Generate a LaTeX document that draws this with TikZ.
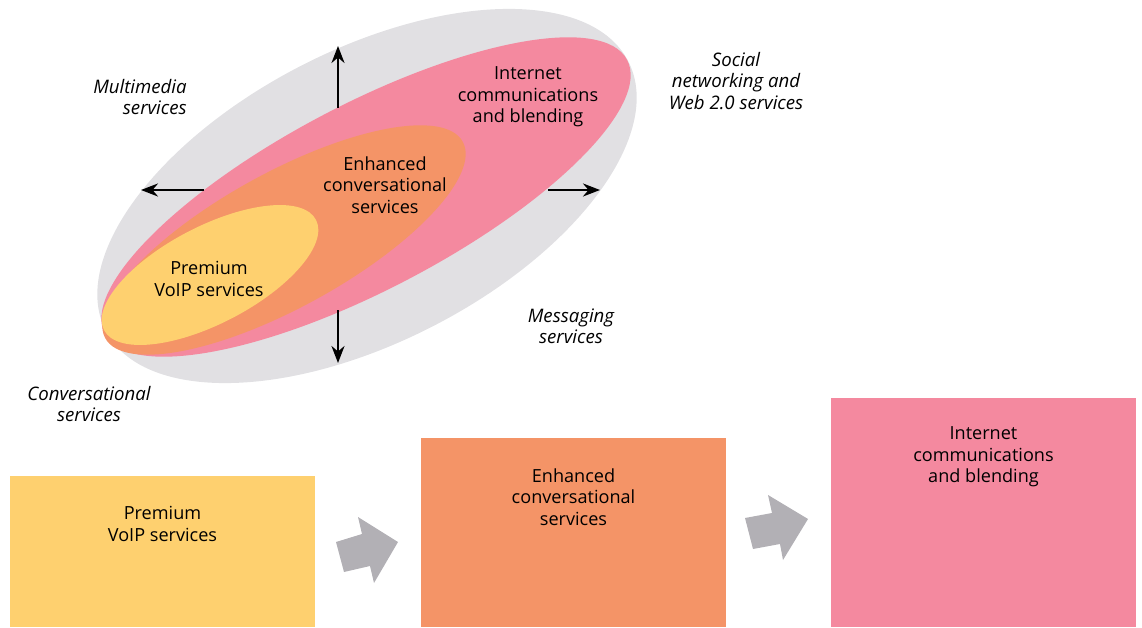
\documentclass[tikz,border=0pt]{standalone}
\usepackage{fontspec}
\setmainfont{Open Sans}
\usetikzlibrary{arrows.meta}
\definecolor{ellgray}{HTML}{E1E0E3}
\definecolor{pinkc}{HTML}{F4899F}
\definecolor{orangec}{HTML}{F49467}
\definecolor{yellowc}{HTML}{FED06F}
\definecolor{arrowgray}{HTML}{B2B0B5}
\tikzset{
  txt/.style={font=\fontsize{10.3}{12.2}\selectfont, align=center, inner sep=0pt},
  itxt/.style={font=\fontsize{10.6}{12.2}\selectfont\itshape, align=center, inner sep=0pt},
  boxnode/.style={inner sep=0pt, minimum width=6.1cm},
  axisarrow/.style={line width=1.4pt, -{Stealth[length=3.4mm,width=2.6mm,inset=1.1mm]}},
  blockarrow/.style={fill=arrowgray}
}
\begin{document}
\begin{tikzpicture}[x=0.02cm,y=-0.02cm]
\useasboundingbox (0,0) rectangle (1142,628);
% ellipses
\fill[ellgray, rotate around={27.3:(367,196)}] (367,196) ellipse [x radius=5.88cm, y radius=2.92cm];
\fill[pinkc, rotate around={27.7:(366,197)}] (366,197) ellipse [x radius=5.90cm, y radius=1.85cm];
\fill[orangec, rotate around={28.8:(284,240)}] (284,240) ellipse [x radius=4.08cm, y radius=1.35cm];
\fill[yellowc, rotate around={27.5:(210,275)}] (210,275) ellipse [x radius=2.39cm, y radius=0.97cm];
% axis arrows
\coordinate (upS) at (338,108);
\coordinate (upE) at (338,46);
\coordinate (dnS) at (338,310);
\coordinate (dnE) at (338,363);
\coordinate (lfS) at (204,190);
\coordinate (lfE) at (141,190);
\coordinate (rtS) at (548,190);
\coordinate (rtE) at (600,190);
\draw[axisarrow] (upS) -- (upE);
\draw[axisarrow] (dnS) -- (dnE);
\draw[axisarrow] (lfS) -- (lfE);
\draw[axisarrow] (rtS) -- (rtE);
% ellipse texts
\node[txt] (tInt) at (528,97) {Internet\\communications\\and blending};
\node[txt] (tEnh) at (385,185) {Enhanced\\conversational\\services};
\node[txt] (tPrem) at (209,279) {Premium\\VoIP services};
% outer labels
\node[itxt, align=right, anchor=east] (lMulti) at (187,97) {Multimedia\\services};
\node[itxt] (lSocial) at (736,81) {Social\\networking and\\Web 2.0 services};
\node[itxt] (lMsg) at (571,326) {Messaging\\services};
\node[itxt] (lConv) at (89,404) {Conversational\\services};
% boxes
\node[boxnode, fill=yellowc, minimum height=3.02cm] (bY) at (162.5,551.5) {};
\node[boxnode, fill=orangec, minimum height=3.78cm] (bO) at (573.5,532.5) {};
\node[boxnode, fill=pinkc, minimum height=4.58cm] (bP) at (983.5,512.5) {};
\node[txt] (tbY) at (162.5,524) {Premium\\VoIP services};
\node[txt] (tbO) at (573.5,497) {Enhanced\\conversational\\services};
\node[txt] (tbP) at (983.5,457) {Internet\\communications\\and blending};
% block arrows
\fill[blockarrow] (336,542) -- (362,534) -- (358,517) -- (398,542) -- (374,583) -- (370,566) -- (344,572) -- cycle;
\fill[blockarrow] (745,518) -- (772,513) -- (768,495) -- (808,519) -- (783,560) -- (780,544) -- (753,549) -- cycle;
\end{tikzpicture}
\end{document}
